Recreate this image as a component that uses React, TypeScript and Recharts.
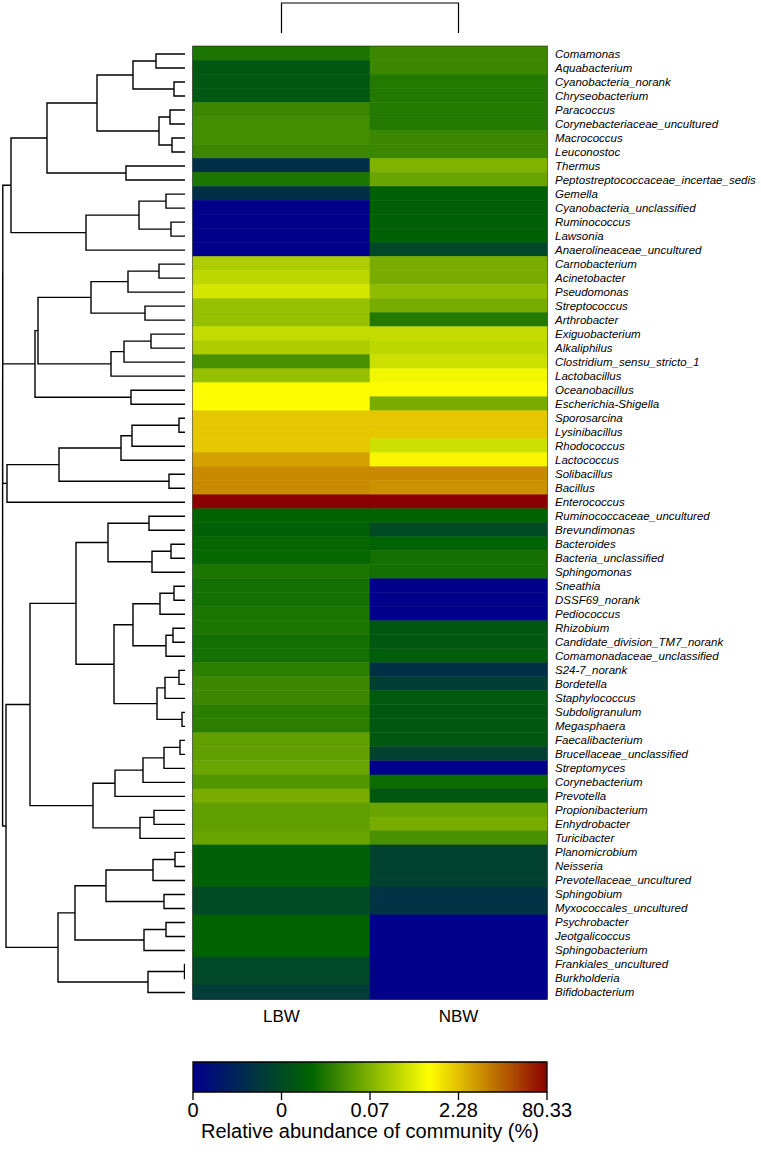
import React from 'react';
import { BarChart, Bar, Cell, XAxis, YAxis, LineChart, Line, ReferenceArea } from 'recharts';

const taxa = [
  'Comamonas', 'Aquabacterium', 'Cyanobacteria_norank', 'Chryseobacterium', 'Paracoccus',
  'Corynebacteriaceae_uncultured', 'Macrococcus', 'Leuconostoc', 'Thermus',
  'Peptostreptococcaceae_incertae_sedis', 'Gemella', 'Cyanobacteria_unclassified', 'Ruminococcus',
  'Lawsonia', 'Anaerolineaceae_uncultured', 'Carnobacterium', 'Acinetobacter', 'Pseudomonas',
  'Streptococcus', 'Arthrobacter', 'Exiguobacterium', 'Alkaliphilus', 'Clostridium_sensu_stricto_1',
  'Lactobacillus', 'Oceanobacillus', 'Escherichia-Shigella', 'Sporosarcina', 'Lysinibacillus',
  'Rhodococcus', 'Lactococcus', 'Solibacillus', 'Bacillus', 'Enterococcus', 'Ruminococcaceae_uncultured',
  'Brevundimonas', 'Bacteroides', 'Bacteria_unclassified', 'Sphingomonas', 'Sneathia', 'DSSF69_norank',
  'Pediococcus', 'Rhizobium', 'Candidate_division_TM7_norank', 'Comamonadaceae_unclassified',
  'S24-7_norank', 'Bordetella', 'Staphylococcus', 'Subdoligranulum', 'Megasphaera', 'Faecalibacterium',
  'Brucellaceae_unclassified', 'Streptomyces', 'Corynebacterium', 'Prevotella', 'Propionibacterium',
  'Enhydrobacter', 'Turicibacter', 'Planomicrobium', 'Neisseria', 'Prevotellaceae_uncultured',
  'Sphingobium', 'Myxococcales_uncultured', 'Psychrobacter', 'Jeotgalicoccus', 'Sphingobacterium',
  'Frankiales_uncultured', 'Burkholderia', 'Bifidobacterium',
];

const groups = ['LBW', 'NBW'];

// position of each cell on the colour scale (0 = left end, 100 = right end)
const lbwLevel = [
  37, 29, 29, 29, 41, 42, 42, 41, 16, 37,
  16, 0, 0, 0, 0, 56, 58, 61, 53, 53,
  59, 56, 43, 53, 67, 67, 74, 74, 74, 79,
  82, 82, 100, 33, 32, 34, 34, 37, 36, 36,
  37, 37, 36, 36, 39, 41, 41, 39, 39, 46,
  46, 47, 44, 49, 46, 46, 47, 32, 32, 32,
  25, 25, 33, 33, 33, 24, 24, 20,
];

const nbwLevel = [
  41, 41, 38, 38, 38, 38, 41, 41, 50, 47,
  32, 32, 32, 32, 24, 49, 49, 52, 49, 38,
  59, 58, 60, 65, 67, 49, 74, 74, 60, 68,
  82, 81, 100, 33, 25, 33, 36, 36, 0, 0,
  0, 29, 29, 31, 16, 21, 30, 29, 29, 29,
  22, 0, 35, 29, 47, 49, 43, 22, 22, 22,
  17, 17, 0, 0, 0, 0, 0, 0,
];

const scaleStops = ['#00008B', '#006400', '#FFFF00', '#8B0000'];
const scaleTickLabels = ['0', '0', '0.07', '2.28', '80.33'];
const scaleTitle = 'Relative abundance of community (%)';

// hclust-style merge table: negative = leaf (row), positive = earlier merge (1-based); third = height
const rowMerges: [number, number, number][] = [
  [-1, -2, 29], [-3, -4, 11], [1, 2, 52], [-5, -6, 15], [-7, -8, 13],
  [4, 5, 26], [3, 6, 88], [-9, -10, 59], [7, 8, 138], [-11, -12, 19],
  [-13, -14, 14], [10, 11, 46], [12, -15, 99], [9, 13, 174], [-16, -17, 26],
  [15, -18, 57], [-19, -20, 40], [16, 17, 94], [-21, -22, 34], [19, -23, 61],
  [20, -24, 74], [18, 21, 147], [-25, -26, 54], [22, 23, 150], [-27, -28, 6],
  [25, -29, 53], [26, -30, 64], [-31, -32, 16], [27, 28, 126], [29, -33, 178],
  [-34, -35, 36], [-36, -37, 14], [32, -38, 33], [31, 33, 77], [-39, -40, 11],
  [35, -41, 25], [-42, -43, 12], [37, -44, 19], [36, 38, 52], [-45, -46, 6],
  [40, -47, 20], [-48, -49, 3], [41, 42, 28], [39, 43, 71], [34, 44, 109],
  [-50, -51, 5], [46, -52, 21], [47, -53, 42], [48, -54, 70], [-55, -56, 31],
  [50, -57, 45], [49, 51, 92], [45, 52, 155], [-58, -59, 10], [54, -60, 32],
  [-61, -62, 21], [55, 56, 79], [-63, -64, 19], [58, -65, 41], [57, 59, 110],
  [-66, -67, 0.5], [61, -68, 37], [60, 62, 127], [53, 63, 179], [14, 24, 182.2],
  [65, 30, 182.3], [66, 64, 182.4],
];
const rowTreeMax = 185;

const columnMerges: [number, number, number][] = [[-1, -2, 1]];

const FONT = '"Liberation Sans", Arial, Helvetica, sans-serif';

function hexToRgb(h: string) {
  const n = parseInt(h.slice(1), 16);
  return [(n >> 16) & 255, (n >> 8) & 255, n & 255];
}

function levelColor(level: number) {
  const p = Math.max(0, Math.min(1, level / 100)) * (scaleStops.length - 1);
  const i = Math.min(Math.floor(p), scaleStops.length - 2);
  const t = p - i;
  const a = hexToRgb(scaleStops[i]);
  const b = hexToRgb(scaleStops[i + 1]);
  const c = a.map((v, k) => Math.round(v + (b[k] - v) * t));
  return `rgb(${c[0]},${c[1]},${c[2]})`;
}

type TreePoint = { pos: number | null; h: number | null };

function treeSegments(merges: [number, number, number][]): TreePoint[] {
  const pos: number[] = [];
  const hgt: number[] = [];
  const node = (id: number) => (id < 0 ? { p: -id - 1 + 0.5, h: 0 } : { p: pos[id - 1], h: hgt[id - 1] });
  const pts: TreePoint[] = [];
  merges.forEach(([a, b, h], k) => {
    const A = node(a);
    const B = node(b);
    pts.push({ pos: A.p, h: A.h }, { pos: A.p, h }, { pos: B.p, h }, { pos: B.p, h: B.h }, { pos: null, h: null });
    pos[k] = (A.p + B.p) / 2;
    hgt[k] = h;
  });
  return pts;
}

const rowTree = treeSegments(rowMerges);
const colTree = treeSegments(columnMerges);

const heatRows = taxa.map((taxon) => ({ taxon, LBW: 1, NBW: 1 }));
const scaleRow = [{ name: 'scale', span: scaleTickLabels.length - 1 }];

const PLOT_TOP = 46.5;
const PLOT_BOTTOM = 999;
const HEAT_LEFT = 193;
const HEAT_RIGHT = 547;

export default function App() {
  return (
    <div
      style={{
        position: 'absolute',
        left: 0,
        top: 0,
        width: 761,
        height: 1158,
        background: '#fff',
        fontFamily: FONT,
        overflow: 'hidden',
      }}
    >
      {/* row dendrogram */}
      <div style={{ position: 'absolute', left: 0, top: PLOT_TOP }}>
        <LineChart
          width={rowTreeMax}
          height={PLOT_BOTTOM - PLOT_TOP}
          data={rowTree}
          margin={{ top: 0, right: 0, bottom: 0, left: 0 }}
        >
          <XAxis type="number" dataKey="h" domain={[0, rowTreeMax]} reversed hide />
          <YAxis type="number" domain={[0, taxa.length]} reversed hide />
          <Line
            dataKey="pos"
            stroke="#000"
            strokeWidth={1.4}
            dot={false}
            activeDot={false}
            connectNulls={false}
            isAnimationActive={false}
            type="linear"
          />
        </LineChart>
      </div>

      {/* column dendrogram */}
      <div style={{ position: 'absolute', left: HEAT_LEFT, top: -2 }}>
        <LineChart
          width={HEAT_RIGHT - HEAT_LEFT}
          height={40}
          data={colTree}
          margin={{ top: 5, right: 0, bottom: 5, left: 0 }}
        >
          <XAxis type="number" dataKey="pos" domain={[0, groups.length]} hide />
          <YAxis type="number" domain={[0, 1]} hide />
          <Line
            dataKey="h"
            stroke="#000"
            strokeWidth={1.2}
            dot={false}
            activeDot={false}
            connectNulls={false}
            isAnimationActive={false}
            type="linear"
          />
        </LineChart>
      </div>

      {/* heatmap */}
      <div style={{ position: 'absolute', left: 0, top: 0 }}>
        <BarChart
          width={761}
          height={1040}
          data={heatRows}
          layout="vertical"
          barCategoryGap={0}
          margin={{ top: PLOT_TOP, right: 0, bottom: 0, left: HEAT_LEFT }}
        >
          <XAxis
            type="number"
            domain={[0, groups.length]}
            ticks={[0.5, 1.5]}
            tickFormatter={(v: number) => groups[Math.floor(v)]}
            height={1040 - PLOT_BOTTOM}
            axisLine={false}
            tickLine={false}
            tickMargin={5}
            tick={{ fill: '#000', fontSize: 17 }}
          />
          <YAxis
            type="category"
            dataKey="taxon"
            orientation="right"
            width={761 - HEAT_RIGHT}
            interval={0}
            axisLine={false}
            tickLine={false}
            tick={{ fill: '#000', fontSize: 11.5, fontStyle: 'italic' }}
          />
          <Bar dataKey="LBW" stackId="heat" isAnimationActive={false}>
            {heatRows.map((r, i) => (
              <Cell key={r.taxon} fill={levelColor(lbwLevel[i])} stroke={levelColor(lbwLevel[i])} strokeWidth={0.6} />
            ))}
          </Bar>
          <Bar dataKey="NBW" stackId="heat" isAnimationActive={false}>
            {heatRows.map((r, i) => (
              <Cell key={r.taxon} fill={levelColor(nbwLevel[i])} stroke={levelColor(nbwLevel[i])} strokeWidth={0.6} />
            ))}
          </Bar>
          <ReferenceArea
            x1={0}
            x2={groups.length}
            y1={taxa[0]}
            y2={taxa[taxa.length - 1]}
            fill="none"
            fillOpacity={0}
            stroke="#000"
            strokeWidth={1.3}
            ifOverflow="visible"
          />
        </BarChart>
      </div>

      {/* colour key */}
      <div style={{ position: 'absolute', left: 0, top: 1050 }}>
        <BarChart
          width={761}
          height={100}
          data={scaleRow}
          layout="vertical"
          barCategoryGap={0}
          margin={{ top: 12, right: 761 - HEAT_RIGHT, bottom: 0, left: HEAT_LEFT }}
        >
          <defs>
            <linearGradient id="abundanceScale" x1="0" y1="0" x2="1" y2="0">
              {scaleStops.map((c, i) => (
                <stop key={i} offset={`${(i / (scaleStops.length - 1)) * 100}%`} stopColor={c} />
              ))}
            </linearGradient>
          </defs>
          <XAxis
            type="number"
            domain={[0, scaleTickLabels.length - 1]}
            ticks={scaleTickLabels.map((_, i) => i)}
            tickFormatter={(v: number) => scaleTickLabels[v]}
            interval={0}
            height={58}
            axisLine={false}
            tickLine={{ stroke: '#000', strokeWidth: 1.3 }}
            tickSize={8}
            tickMargin={3}
            tick={{ fill: '#000', fontSize: 20 }}
            label={{ value: scaleTitle, position: 'insideBottom', offset: 12, fill: '#000', fontSize: 20 }}
          />
          <YAxis type="category" dataKey="name" hide />
          <Bar
            dataKey="span"
            fill="url(#abundanceScale)"
            stroke="#000"
            strokeWidth={1.3}
            isAnimationActive={false}
          />
        </BarChart>
      </div>
    </div>
  );
}
